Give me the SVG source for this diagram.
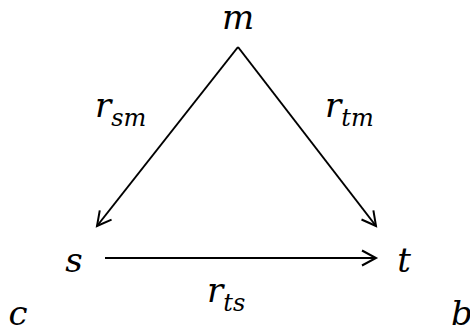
<svg xmlns="http://www.w3.org/2000/svg" width="470" height="333" viewBox="0 0 470 333">
<style>
text{font-family:"DejaVu Serif",serif;font-style:italic;fill:#000}
.v{font-size:34px}
.sub{font-size:24px}
.e{stroke:#000;stroke-width:2;fill:none}
</style>
<defs>
<marker id="ah" markerUnits="userSpaceOnUse" markerWidth="20" markerHeight="20" viewBox="-16 -10 20 20" refX="0" refY="0" orient="auto">
<path d="M -14 -7.5 L 0 0 L -14 7.5" fill="none" stroke="#000" stroke-width="2"/>
</marker>
</defs>
<rect width="470" height="333" fill="#fff"/>
<g id="connectors">
<line class="e" x1="238" y1="47" x2="97" y2="226" marker-end="url(#ah)"/>
<line class="e" x1="238" y1="47" x2="376" y2="226" marker-end="url(#ah)"/>
<line class="e" x1="105" y1="258" x2="376" y2="258" marker-end="url(#ah)"/>
</g>
<g id="m"><text class="v" x="238" y="29" text-anchor="middle">m</text></g>
<g id="s"><text class="v" x="74" y="272" text-anchor="middle">s</text></g>
<g id="t"><text class="v" x="404" y="272" text-anchor="middle">t</text></g>
<g id="c"><text class="v" x="18" y="325" text-anchor="middle">c</text></g>
<g id="b"><text class="v" x="462" y="325" text-anchor="middle">b</text></g>
<g id="label-rsm"><text class="v" x="95" y="117">r<tspan class="sub" dy="9">sm</tspan></text></g>
<g id="label-rtm"><text class="v" x="325" y="117">r<tspan class="sub" dy="9">tm</tspan></text></g>
<g id="label-rts"><text class="v" x="207" y="302">r<tspan class="sub" dy="9">ts</tspan></text></g>
</svg>
